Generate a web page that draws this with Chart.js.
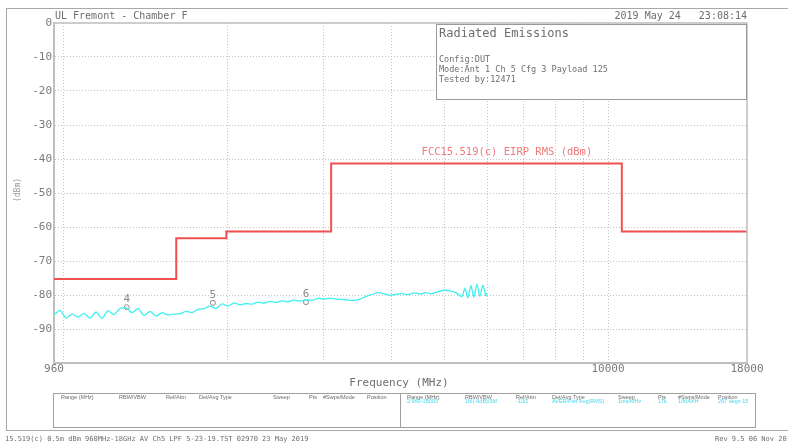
<!DOCTYPE html>
<html>
<head>
<meta charset="utf-8">
<script src="https://cdn.jsdelivr.net/npm/chart.js@4.4.1/dist/chart.umd.min.js"></script>
<style>
  body { margin: 0; background: #fff; }
  canvas { display: block; }
</style>
</head>
<body>
<canvas id="myChart" width="788" height="447"></canvas>
<script>
// Limit line (FCC 15.519(c) EIRP RMS), MHz / dBm
const limitFreq = [960, 1610, 1990, 3100, 10600, 18000];
const limitLevel = [-75.3, -63.3, -61.3, -41.3, -61.3, -61.3];

// Measured trace, MHz / dBm
const traceFreq = [
  960, 985, 1010, 1036, 1063, 1090, 1118, 1147, 1176, 1206,
  1237, 1269, 1302, 1335, 1370, 1405, 1441, 1478, 1516, 1555,
  1595, 1636, 1678, 1721, 1765, 1811, 1857, 1905, 1954, 2004,
  2055, 2108, 2162, 2218, 2275, 2333, 2393, 2455, 2518, 2582,
  2649, 2717, 2787, 2858, 2932, 3007, 3084, 3164, 3245, 3328,
  3414, 3501, 3591, 3684, 3778, 3875, 3975, 4077, 4182, 4289,
  4400, 4513, 4628, 4747, 4869, 4994, 5123, 5254, 5389, 5458,
  5528, 5598, 5670, 5742, 5816, 5890, 5965, 5990
];
const traceLevel = [
  -85.8, -84.5, -86.8, -85.6, -86.5, -85.4, -86.8, -85.0, -86.9, -84.6,
  -85.8, -84.0, -83.8, -85.2, -84.0, -86.0, -84.8, -86.2, -85.2, -85.9,
  -85.6, -85.5, -84.8, -85.2, -84.2, -84.0, -83.3, -84.0, -82.6, -83.3,
  -82.3, -82.9, -82.5, -82.7, -82.1, -82.4, -81.9, -82.2, -81.7, -82.0,
  -81.5, -81.8, -81.4, -81.6, -81.0, -81.2, -80.9, -81.2, -81.3, -81.5,
  -81.6, -81.2, -80.4, -79.8, -79.3, -79.6, -80.1, -79.8, -79.6, -79.9,
  -79.4, -79.7, -79.3, -79.6, -79.0, -78.6, -78.8, -79.3, -80.5, -78.0,
  -80.8, -77.2, -80.6, -76.8, -80.4, -77.0, -80.2, -79.5
];

// Markers
const markerNames = ['4', '5', '6'];
const markerFreq = [1306, 1880, 2787];
const markerLevel = [-83.6, -82.3, -82.1];

// Axes
const xTicks = [960, 1000, 2000, 3000, 4000, 5000, 6000, 7000, 8000, 9000, 10000, 18000];
const xTickLabels = [960, 10000, 18000];
const yMin = -100, yMax = 0, yStep = 10;

const grey = '#7a7a7a';
const mono = '"DejaVu Sans Mono", "Liberation Mono", monospace';

const toPts = (xs, ys) => xs.map((x, i) => ({ x: x, y: ys[i] }));

// Table in the bottom box
const tableHeads = ['Range (MHz)', 'RBW/VBW', 'Ref/Attn', 'Det/Avg Type', 'Sweep', 'Pts', '#Swps/Mode', 'Position'];
const tableLeftX = [61, 119, 166, 199, 273, 309, 323, 367];
const tableRightX = [407, 465, 516, 552, 618, 658, 678, 718];
const tableValues = ['2:960-18000', '1M(-6dB)/3M', '-10/2', 'AVER/Pwr Avg(RMS)', '1ms/MHz', '17k', '1/MAXH', '297 degs 15'];

const extras = {
  id: 'extras',
  afterDraw(chart) {
    const ctx = chart.ctx;
    const xs = chart.scales.x, ys = chart.scales.y;
    const a = chart.chartArea;
    ctx.save();

    // outer frame
    ctx.strokeStyle = '#a8a8a8';
    ctx.lineWidth = 1;
    ctx.strokeRect(6.5, 8.5, 800, 422);

    // plot box top + right
    ctx.strokeStyle = '#bdbdbd';
    ctx.lineWidth = 1.5;
    ctx.beginPath();
    ctx.moveTo(a.left, a.top); ctx.lineTo(a.right, a.top); ctx.lineTo(a.right, a.bottom);
    ctx.stroke();

    // header texts
    ctx.fillStyle = '#6e6e6e';
    ctx.textBaseline = 'middle';
    ctx.font = '10px ' + mono;
    ctx.textAlign = 'left';
    ctx.fillText('UL Fremont - Chamber F', 55, 16);
    ctx.textAlign = 'right';
    ctx.fillText('2019 May 24   23:08:14', 747, 16);

    // info box
    ctx.fillStyle = '#fff';
    ctx.fillRect(436, 24, 311, 75);
    ctx.strokeStyle = '#9a9a9a';
    ctx.lineWidth = 1;
    ctx.strokeRect(436.5, 24.5, 310, 75);
    ctx.fillStyle = '#6e6e6e';
    ctx.textAlign = 'left';
    ctx.font = '12px ' + mono;
    ctx.fillText('Radiated Emissions', 439, 34);
    ctx.font = '8.5px ' + mono;
    ctx.fillText('Config:DUT', 439, 60);
    ctx.fillText('Mode:Ant 1 Ch 5 Cfg 3 Payload 125', 439, 70);
    ctx.fillText('Tested by:12471', 439, 80);

    // limit label
    ctx.fillStyle = '#f07a7a';
    ctx.textAlign = 'center';
    ctx.font = '10.5px ' + mono;
    ctx.fillText('FCC15.519(c) EIRP RMS (dBm)', xs.getPixelForValue(6520), ys.getPixelForValue(-38));

    // marker labels
    ctx.fillStyle = '#8a8a8a';
    ctx.font = '11px ' + mono;
    markerNames.forEach((n, i) => {
      ctx.fillText(n, xs.getPixelForValue(markerFreq[i]), ys.getPixelForValue(markerLevel[i]) - 8);
    });

    // axis titles
    ctx.fillStyle = '#6e6e6e';
    ctx.font = '11px ' + mono;
    ctx.fillText('Frequency (MHz)', 399, 383);
    ctx.save();
    ctx.translate(18, 190);
    ctx.rotate(-Math.PI / 2);
    ctx.font = '8px ' + mono;
    ctx.fillStyle = '#999';
    ctx.fillText('(dBm)', 0, 0);
    ctx.restore();

    // bottom table
    ctx.strokeStyle = '#a0a0a0';
    ctx.lineWidth = 1;
    ctx.strokeRect(53.5, 393.5, 702, 34);
    ctx.beginPath();
    ctx.moveTo(400.5, 393.5); ctx.lineTo(400.5, 427.5);
    ctx.stroke();
    ctx.textAlign = 'left';
    ctx.font = '5.5px "Liberation Sans", sans-serif';
    ctx.fillStyle = '#6a6a6a';
    tableHeads.forEach((h, i) => {
      ctx.fillText(h, tableLeftX[i], 397);
      ctx.fillText(h, tableRightX[i], 397);
    });
    ctx.fillStyle = '#3fd8ee';
    ctx.save();
    ctx.beginPath();
    ctx.rect(400, 393, 355, 34);
    ctx.clip();
    tableValues.forEach((v, i) => ctx.fillText(v, tableRightX[i], 401.5));
    ctx.restore();

    // footer
    ctx.fillStyle = '#6e6e6e';
    ctx.font = '7px ' + mono;
    ctx.fillText('15.519(c) 0.5m dBm 960MHz-18GHz AV Ch5 LPF 5-23-19.TST 02970 23 May 2019', 5, 439);
    ctx.fillText('Rev 9.5 06 Nov 2018', 715, 439);

    ctx.restore();
  }
};

const ctx = document.getElementById('myChart');

new Chart(ctx, {
  type: 'line',
  data: {
    datasets: [{
      label: 'Limit',
      data: toPts(limitFreq, limitLevel),
      stepped: true,
      borderColor: '#f05050',
      borderWidth: 2,
      pointRadius: 0,
      fill: false
    }, {
      label: 'Trace',
      data: toPts(traceFreq, traceLevel),
      borderColor: '#3ff0f0',
      borderWidth: 1.3,
      pointRadius: 0,
      tension: 0.2,
      fill: false
    }, {
      label: 'Markers',
      data: toPts(markerFreq, markerLevel),
      showLine: false,
      pointRadius: 2.5,
      pointBorderColor: '#8a8a8a',
      pointBackgroundColor: 'rgba(0,0,0,0)',
      pointBorderWidth: 1
    }]
  },
  options: {
    responsive: false,
    animation: false,
    devicePixelRatio: 1,
    layout: {
      padding: { left: 0, right: 41, top: 23, bottom: 64 }
    },
    scales: {
      x: {
        type: 'logarithmic',
        min: 960,
        max: 18000,
        afterBuildTicks: (s) => { s.ticks = xTicks.map(v => ({ value: v })); },
        afterFit: (s) => { s.height = 20; },
        ticks: {
          autoSkip: false,
          maxRotation: 0,
          padding: 0,
          color: grey,
          font: { family: mono, size: 11 },
          callback: (v) => xTickLabels.includes(v) ? String(v) : ''
        },
        grid: {
          drawTicks: false,
          lineWidth: 1,
          color: (c) => (c.tick && (c.tick.value === 960 || c.tick.value === 18000)) ? 'rgba(0,0,0,0)' : '#c4c4c4'
        },
        border: { display: true, color: '#c0c0c0', width: 2, dash: [1, 2] }
      },
      y: {
        min: yMin,
        max: yMax,
        afterFit: (s) => { s.width = 54; },
        ticks: {
          stepSize: yStep,
          padding: 2,
          color: grey,
          font: { family: mono, size: 11 },
          callback: (v) => v === yMin ? '' : String(v)
        },
        grid: {
          drawTicks: false,
          lineWidth: 1,
          color: (c) => (c.tick && (c.tick.value === yMin || c.tick.value === yMax)) ? 'rgba(0,0,0,0)' : '#c4c4c4'
        },
        border: { display: true, color: '#c0c0c0', width: 2, dash: [1, 2] }
      }
    },
    plugins: {
      legend: { display: false },
      tooltip: { enabled: false }
    }
  },
  plugins: [extras]
});
</script>
</body>
</html>
